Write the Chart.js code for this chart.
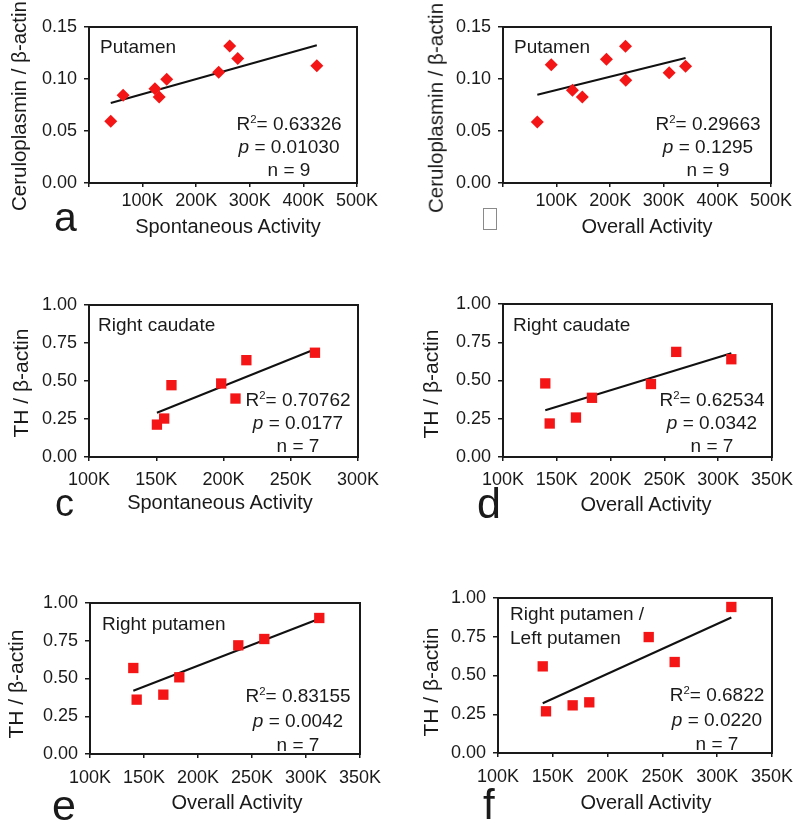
<!DOCTYPE html>
<html><head><meta charset="utf-8">
<script src="https://cdn.jsdelivr.net/npm/chart.js@4.4.1/dist/chart.umd.min.js"></script>
<style>
html,body{margin:0;padding:0;background:#fff;width:800px;height:834px;overflow:hidden;position:relative;font-family:"Liberation Sans",Arial,Helvetica,sans-serif;color:#1a1a1a;}
canvas{position:absolute;}
.t{position:absolute;white-space:nowrap;line-height:1;}
.sup{font-size:0.6em;vertical-align:0.6em;line-height:0;}
</style></head><body>
<script>
// ---------- data (x = activity counts, y = ratio) ----------
const aX = [40600, 63700, 123000, 131000, 145000, 242000, 262500, 277500, 425000];
const aY = [0.0593, 0.0843, 0.0907, 0.0827, 0.0997, 0.1064, 0.1317, 0.1196, 0.1128];
const aFitX = [40600, 425000];
const aFitY = [0.0770, 0.1325];

const bX = [64000, 90000, 129500, 148000, 193000, 228500, 229000, 310000, 340600];
const bY = [0.0587, 0.1138, 0.0891, 0.0827, 0.1189, 0.1314, 0.0987, 0.1061, 0.1122];
const bFitX = [64000, 340600];
const bFitY = [0.0848, 0.1202];

const cX = [150500, 155900, 161300, 198300, 208900, 217000, 268000];
const cY = [0.213, 0.253, 0.4725, 0.4835, 0.3846, 0.637, 0.686];
const cFitX = [150500, 268000];
const cFitY = [0.291, 0.709];

const dX = [139300, 143400, 167800, 182700, 237500, 261000, 312200];
const dY = [0.481, 0.219, 0.258, 0.387, 0.477, 0.687, 0.639];
const dFitX = [139300, 312200];
const dFitY = [0.306, 0.678];

const eX = [140100, 143200, 167900, 182700, 237300, 261400, 312300];
const eY = [0.5695, 0.36, 0.393, 0.508, 0.7196, 0.7616, 0.9007];
const eFitX = [140100, 312300];
const eFitY = [0.419, 0.896];

const fX = [140800, 143800, 168100, 183300, 237500, 261200, 312900];
const fY = [0.559, 0.269, 0.3075, 0.327, 0.748, 0.587, 0.942];
const fFitX = [140800, 312900];
const fFitY = [0.321, 0.874];

const ticksCeru = [0, 0.05, 0.10, 0.15];
const ticksTH = [0, 0.25, 0.5, 0.75, 1.0];
const ticksX500 = [0, 100000, 200000, 300000, 400000, 500000];
const ticksX300 = [100000, 150000, 200000, 250000, 300000];
const ticksX350 = [100000, 150000, 200000, 250000, 300000, 350000];

// ---------- helpers ----------
const FONT = '"Liberation Sans", Arial, Helvetica, sans-serif';
const RED = 'rgb(244,22,22)';
const INK = '#1a1a1a';

const frame = {
  id: 'frame',
  beforeDatasetsDraw(ch) {
    const {ctx, chartArea: a} = ch;
    ctx.save();
    ctx.strokeStyle = INK; ctx.lineWidth = 2;
    ctx.strokeRect(a.left, a.top, a.right - a.left, a.bottom - a.top);
    ctx.restore();
  }
};

function panel(o) {
  const padL = 90, padT = 30, padR = 30, padB = 48;
  const w = (o.R - o.L) + padL + padR, h = (o.B - o.T) + padT + padB;
  const c = document.createElement('canvas');
  c.width = w; c.height = h;
  c.style.left = (o.L - padL) + 'px'; c.style.top = (o.T - padT) + 'px';
  c.style.width = w + 'px'; c.style.height = h + 'px';
  document.body.appendChild(c);
  new Chart(c, {
    type: 'scatter',
    data: {
      datasets: [
        {type: 'line', data: o.fitX.map((x, i) => ({x, y: o.fitY[i]})),
         borderColor: '#111', borderWidth: 2, pointRadius: 0, fill: false, order: 2},
        {data: o.x.map((x, i) => ({x, y: o.y[i]})), pointStyle: o.shape, pointRadius: o.r,
         backgroundColor: RED, borderColor: RED, borderWidth: 0, order: 1}
      ]
    },
    options: {
      responsive: false, animation: false, devicePixelRatio: 1,
      layout: {padding: {left: 0, top: padT, right: padR, bottom: 0}},
      plugins: {legend: {display: false}, tooltip: {enabled: false}},
      scales: {
        x: {
          type: 'linear', min: o.xTicks[0], max: o.xTicks[o.xTicks.length - 1],
          afterBuildTicks: s => { s.ticks = o.xTicks.map(v => ({value: v})); },
          ticks: {callback: v => (v === 0 ? '' : (v / 1000) + 'K'), font: {family: FONT, size: 18},
                  color: INK, padding: o.xPad, maxRotation: 0, autoSkip: false},
          grid: {display: true, drawOnChartArea: false, drawTicks: true, tickLength: 4, color: INK, lineWidth: 1.5},
          border: {display: true, color: INK, width: 2},
          afterFit: s => { s.height = padB; s.paddingLeft = 0; s.paddingRight = 0; }
        },
        y: {
          type: 'linear', min: o.yTicks[0], max: o.yTicks[o.yTicks.length - 1],
          afterBuildTicks: s => { s.ticks = o.yTicks.map(v => ({value: v})); },
          ticks: {callback: v => Number(v).toFixed(2), font: {family: FONT, size: 18},
                  color: INK, padding: 7, autoSkip: false},
          grid: {display: true, drawOnChartArea: false, drawTicks: true, tickLength: 5, color: INK, lineWidth: 1.5},
          border: {display: true, color: INK, width: 2},
          afterFit: s => { s.width = padL; s.paddingTop = 0; s.paddingBottom = 0; }
        }
      }
    },
    plugins: [frame]
  });
}

function txt(html, x, base, size, align, style) {
  const d = document.createElement('div');
  d.className = 't';
  d.innerHTML = html;
  d.style.fontSize = size + 'px';
  d.style.top = (base - 0.8465 * size) + 'px';
  d.style.left = x + 'px';
  if (align === 'center') d.style.transform = 'translateX(-50%)';
  if (style) Object.assign(d.style, style);
  document.body.appendChild(d);
}
function vtxt(text, cx, cy, size) {
  const d = document.createElement('div');
  d.className = 't';
  d.textContent = text;
  d.style.fontSize = size + 'px';
  d.style.left = cx + 'px'; d.style.top = cy + 'px';
  d.style.transform = 'translate(-50%,-50%) rotate(-90deg)';
  document.body.appendChild(d);
}
function stats(r2, p, n, cx, b1, b2, b3) {
  txt('R<span class="sup">2</span>= ' + r2, cx, b1, 19, 'center');
  txt('<i>p</i> = ' + p, cx, b2, 19, 'center');
  txt('n = ' + n, cx, b3, 19, 'center');
}

// ---------- panels ----------
panel({L: 89, T: 27, R: 357, B: 183, x: aX, y: aY, fitX: aFitX, fitY: aFitY, shape: 'rectRot', r: 6.5,
       xTicks: ticksX500, yTicks: ticksCeru, xPad: 3});
panel({L: 503, T: 27, R: 771, B: 183, x: bX, y: bY, fitX: bFitX, fitY: bFitY, shape: 'rectRot', r: 6.5,
       xTicks: ticksX500, yTicks: ticksCeru, xPad: 3});
panel({L: 89, T: 305, R: 358, B: 457, x: cX, y: cY, fitX: cFitX, fitY: cFitY, shape: 'rect', r: 7.3,
       xTicks: ticksX300, yTicks: ticksTH, xPad: 8});
panel({L: 503, T: 304, R: 772, B: 457, x: dX, y: dY, fitX: dFitX, fitY: dFitY, shape: 'rect', r: 7.3,
       xTicks: ticksX350, yTicks: ticksTH, xPad: 8});
panel({L: 90, T: 603, R: 360, B: 754, x: eX, y: eY, fitX: eFitX, fitY: eFitY, shape: 'rect', r: 7.3,
       xTicks: ticksX350, yTicks: ticksTH, xPad: 9.5});
panel({L: 498, T: 598, R: 772, B: 753, x: fX, y: fY, fitX: fFitX, fitY: fFitY, shape: 'rect', r: 7.3,
       xTicks: ticksX350, yTicks: ticksTH, xPad: 9.5});

// ---------- texts ----------
// panel a
txt('Putamen', 100, 53, 19);
stats('0.63326', '0.01030', '9', 289, 130, 153, 176);
txt('Spontaneous Activity', 228, 233, 20, 'center');
vtxt('Ceruloplasmin / β-actin', 19, 106, 20.5);
txt('a', 54, 232, 41);
// panel b
txt('Putamen', 514, 53, 19);
stats('0.29663', '0.1295', '9', 708, 130, 153, 176);
txt('Overall Activity', 647, 233, 20, 'center');
vtxt('Ceruloplasmin / β-actin', 436, 108, 20.5);
(function () {
  const b = document.createElement('div');
  Object.assign(b.style, {position: 'absolute', left: '483px', top: '208px', width: '12px', height: '20px',
                          border: '1.5px solid #8a8a8a'});
  document.body.appendChild(b);
})();
// panel c
txt('Right caudate', 98, 331, 19);
stats('0.70762', '0.0177', '7', 298, 406, 429, 452);
txt('Spontaneous Activity', 220, 509, 20, 'center');
vtxt('TH / β-actin', 19.5, 383, 21);
txt('c', 55, 516, 38);
// panel d
txt('Right caudate', 513, 331, 19);
stats('0.62534', '0.0342', '7', 712, 406, 429, 452);
txt('Overall Activity', 646, 511, 20, 'center');
vtxt('TH / β-actin', 429.5, 383.5, 21);
txt('d', 477, 518, 43);
// panel e
txt('Right putamen', 102, 630, 19);
stats('0.83155', '0.0042', '7', 298, 702, 727, 751);
txt('Overall Activity', 237, 809, 20, 'center');
vtxt('TH / β-actin', 14.5, 683.5, 21);
txt('e', 52, 820, 43);
// panel f
txt('Right putamen /', 510, 620, 19);
txt('Left putamen', 510, 644, 19);
stats('0.6822', '0.0220', '7', 717, 701, 726, 750);
txt('Overall Activity', 646, 809, 20, 'center');
vtxt('TH / β-actin', 429.5, 681.5, 21);
txt('f', 483, 820, 42);
</script>
</body></html>
